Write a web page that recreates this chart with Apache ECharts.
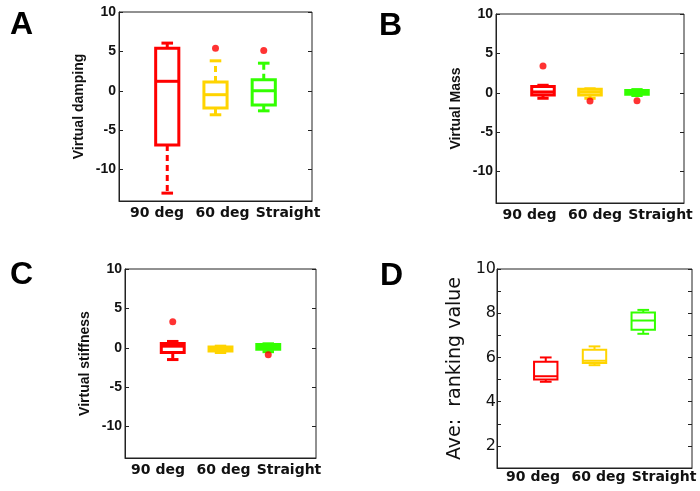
<!DOCTYPE html>
<html>
<head>
<meta charset="utf-8">
<script src="https://cdn.jsdelivr.net/npm/echarts@6/dist/echarts.min.js"></script>
<style>html,body{margin:0;padding:0;background:#fff}#c{width:700px;height:491px}</style>
</head>
<body>
<div id="c"></div>
<script>
// ---- data ----
const categories = ['90 deg', '60 deg', 'Straight'];
// each box: [lowerWhisker, Q1, median, Q3, upperWhisker]
const dampingBoxes = [[-13.0, -6.9, 1.2, 5.4, 6.05], [-3.05, -2.2, -0.5, 1.1, 3.8], [-2.55, -1.8, 0.0, 1.4, 3.5]];
const dampingOutliers = [[], [5.4], [5.1]];
const massBoxes = [[-0.7, -0.3, 0.1, 0.8, 0.95], [-0.7, -0.3, 0.1, 0.45, 0.5], [-0.35, -0.2, 0.05, 0.3, 0.4]];
const massOutliers = [[3.4], [-1.05], [-1.0]];
const stiffnessBoxes = [[-1.5, -0.6, 0.2, 0.55, 0.8], [-0.6, -0.4, -0.2, 0.1, 0.2], [-0.5, -0.2, 0.1, 0.4, 0.5]];
const stiffnessOutliers = [[3.3], [], [-0.9]];
const rankingBoxes = [[4.9, 5.0, 5.15, 5.8, 6.0], [5.65, 5.75, 5.85, 6.35, 6.5], [7.07, 7.25, 7.67, 8.03, 8.15]];
const rankingOutliers = [[], [], []];
const effortTicks = [-10, -5, 0, 5, 10];
const rankingTicks = [2, 4, 6, 8, 10];
const rankingMinorTicks = [2, 3, 4, 5, 6, 7, 8, 9, 10];

// ---- styles / layout ----
const boxColors = ['#ff0000', '#ffd400', '#33ff00'];
const outlierColor = '#ff0000';
// labelRange: extent of the (shifted) category-label axis, as in the original figure
const panels = [
  {letter: 'A', name: 'Virtual damping', boxes: dampingBoxes, out: dampingOutliers, ticks: effortTicks, minor: effortTicks, min: -14, max: 10,
   grid: {left: 119, top: 12, width: 193, height: 189}, letterPos: {left: 5, top: 4}, lw: 3, d: false, labelRange: [0.42, 3.366]},
  {letter: 'B', name: 'Virtual Mass', boxes: massBoxes, out: massOutliers, ticks: effortTicks, minor: effortTicks, min: -14, max: 10,
   grid: {left: 496, top: 14, width: 188, height: 189}, letterPos: {left: 374, top: 5}, lw: 3, d: false, labelRange: [0.489, 3.359]},
  {letter: 'C', name: 'Virtual stiffness', boxes: stiffnessBoxes, out: stiffnessOutliers, ticks: effortTicks, minor: effortTicks, min: -14, max: 10,
   grid: {left: 125, top: 269, width: 191, height: 189}, letterPos: {left: 5, top: 254}, lw: 3, d: false, labelRange: [0.496, 3.412]},
  {letter: 'D', name: 'Ave:  ranking value', boxes: rankingBoxes, out: rankingOutliers, ticks: rankingTicks, minor: rankingMinorTicks, min: 1, max: 10,
   grid: {left: 497, top: 269, width: 195, height: 199}, letterPos: {left: 375, top: 255}, lw: 2, d: true, labelRange: [0.45, 3.427]}
];

const title = [], grid = [], xAxis = [], yAxis = [], series = [];
const dejavu = '"DejaVu Sans", sans-serif';

panels.forEach((p, gi) => {
  title.push({text: p.letter, left: p.letterPos.left, top: p.letterPos.top,
    textStyle: {fontSize: 32, fontWeight: 'bold', fontFamily: 'Liberation Sans, Arial', color: '#000'}});
  grid.push(Object.assign({show: true, borderColor: '#222', borderWidth: 1, backgroundColor: '#fff', containLabel: false}, p.grid));
  // axis carrying the boxes
  xAxis.push({
    type: 'value', gridIndex: gi, min: 0, max: 4, position: 'bottom',
    axisLine: {show: true, onZero: false, lineStyle: {color: '#222', width: 1}},
    axisTick: {show: false}, axisLabel: {show: false}, splitLine: {show: false}
  });
  // axis carrying the category names
  xAxis.push({
    type: 'value', gridIndex: gi, min: p.labelRange[0], max: p.labelRange[1], position: 'bottom',
    axisLine: {show: false, onZero: false}, axisTick: {show: false}, splitLine: {show: false},
    axisLabel: {customValues: [1, 2, 3], formatter: v => categories[Math.round(v) - 1] || '',
      hideOverlap: false, margin: p.d ? 2 : 5, fontSize: 14, fontWeight: 'bold', fontFamily: dejavu, color: '#111'}
  });
  yAxis.push({
    type: 'value', gridIndex: gi, min: p.min, max: p.max, position: 'left',
    name: p.name, nameLocation: 'middle', nameRotate: 90, nameGap: p.d ? 32 : 33,
    nameTextStyle: p.d ? {fontSize: 19, fontFamily: dejavu, color: '#111'}
                       : {fontSize: 14, fontWeight: 'bold', fontFamily: 'Liberation Sans, Arial', color: '#111'},
    axisLine: {show: true, lineStyle: {color: '#222', width: 1}},
    axisTick: {show: true, inside: true, length: 4, customValues: p.minor, lineStyle: {color: '#222'}},
    axisLabel: {customValues: p.ticks, margin: p.d ? 1 : 3, fontSize: p.d ? 16 : 14,
      fontWeight: p.d ? 'normal' : 'bold',
      fontFamily: p.d ? dejavu : 'Liberation Sans, Arial', color: '#111'},
    splitLine: {show: false}
  });
  yAxis.push({
    type: 'value', gridIndex: gi, min: p.min, max: p.max, position: 'right',
    axisLine: {show: false},
    axisTick: {show: true, inside: true, length: 4, customValues: p.minor, lineStyle: {color: '#222'}},
    axisLabel: {show: false}, splitLine: {show: false}
  });
  const lw = p.lw;
  series.push({
    type: 'custom', xAxisIndex: 2 * gi, yAxisIndex: 2 * gi,
    data: p.boxes.map((b, i) => [i + 1].concat(b)),
    renderItem: function (params, api) {
      const x = api.value(0);
      const lo = api.coord([x, api.value(1)]);
      const q1 = api.coord([x, api.value(2)]);
      const md = api.coord([x, api.value(3)]);
      const q3 = api.coord([x, api.value(4)]);
      const hi = api.coord([x, api.value(5)]);
      const bw = api.size([0.48, 0])[0];
      const cw = api.size([0.24, 0])[0];
      const cx = md[0];
      const color = boxColors[x - 1];
      const line = (x1, y1, x2, y2, dash) => ({type: 'line', shape: {x1, y1, x2, y2},
        style: {stroke: color, lineWidth: lw, lineDash: dash ? [6, 4] : null}});
      return {type: 'group', children: [
        line(cx, q3[1], cx, hi[1], true),
        line(cx, q1[1], cx, lo[1], true),
        line(cx - cw / 2, hi[1], cx + cw / 2, hi[1]),
        line(cx - cw / 2, lo[1], cx + cw / 2, lo[1]),
        {type: 'rect', shape: {x: cx - bw / 2, y: q3[1], width: bw, height: q1[1] - q3[1]},
          style: {fill: '#fff', stroke: color, lineWidth: lw}},
        line(cx - bw / 2, md[1], cx + bw / 2, md[1])
      ]};
    }
  });
  const pts = [];
  p.out.forEach((arr, i) => arr.forEach(v => pts.push([i + 1, v])));
  series.push({
    type: 'scatter', xAxisIndex: 2 * gi, yAxisIndex: 2 * gi, data: pts,
    symbol: 'circle', symbolSize: 7, itemStyle: {color: outlierColor}, z: 5
  });
});

const chart = echarts.init(document.getElementById('c'), null, {renderer: 'canvas'});
chart.setOption({animation: false, backgroundColor: '#fff', title, grid, xAxis, yAxis, series});
</script>
</body>
</html>
